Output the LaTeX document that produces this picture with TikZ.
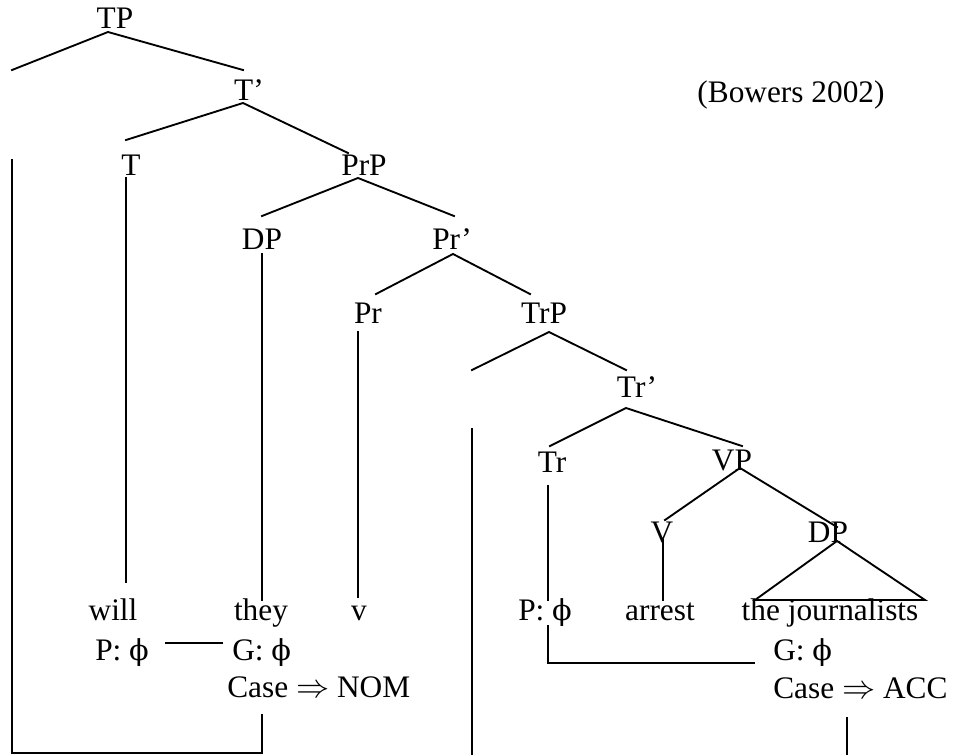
\documentclass[tikz,border=0pt]{standalone}
\usepackage{fontspec}
\setmainfont{Liberation Serif}
\newfontfamily\phfont[Scale=0.92]{DejaVu Serif}
\usetikzlibrary{positioning}
\newcommand{\ph}{{\phfont ϕ}}
\tikzset{
  branch/.style={line width=1.4pt, line cap=rect, line join=miter},
  lab/.style={anchor=base, inner sep=0pt, font=\fontsize{23.5}{28}\selectfont},
  labw/.style={lab, anchor=base west},
}

\begin{document}
\begin{tikzpicture}[x=0.75pt, y=-0.75pt]
  \useasboundingbox (0,0) rectangle (963,755);

  % Labels of the tree
  \node[lab] (TP) at (115,29) {TP};
  \node[lab] (Tbar) at (249,101) {T’};
  \node[lab] (src) at (791,103) {(Bowers 2002)};
  \node[lab] (T) at (131,176) {T};
  \node[lab] (PrP) at (364,176) {PrP};
  \node[lab] (DPa) at (262,250) {DP};
  \node[lab] (Prbar) at (452,250) {Pr’};
  \node[lab] (Pr) at (368,324) {Pr};
  \node[lab] (TrP) at (544,324) {TrP};
  \node[lab] (Trbar) at (637,397) {Tr’};
  \node[lab] (Tr) at (552,472) {Tr};
  \node[lab] (VP) at (732,470) {VP};
  \node[lab] (V) at (662,542) {V};
  \node[lab] (DPb) at (828,542) {DP};

  % Words and features
  \node[lab] (will) at (113,620) {will};
  \node[lab] (they) at (261,620) {they};
  \node[lab] (v) at (359,620) {v};
  \node[labw] (PTr) at (518,620) {P: \ph};
  \node[lab] (arrest) at (660,620) {arrest};
  \node[lab] (journ) at (830,620) {the journalists};
  \node[labw] (PT) at (95,660) {P: \ph};
  \node[labw] (Gthey) at (232,660) {G: \ph};
  \node[labw] (nom) at (227,697) {Case $\Rightarrow$ NOM};
  \node[labw] (Gjourn) at (773,660) {G: \ph};
  \node[labw] (acc) at (773,698) {Case $\Rightarrow$ ACC};

  % Branch points
  \coordinate (TP-a) at (108,32);   \coordinate (TP-l) at (12,70);    \coordinate (TP-r) at (243,70);
  \coordinate (Tbar-a) at (243,103);\coordinate (Tbar-l) at (126,140);\coordinate (Tbar-r) at (348,153);
  \coordinate (PrP-a) at (358,178); \coordinate (PrP-l) at (262,216); \coordinate (PrP-r) at (454,216);
  \coordinate (Prbar-a) at (453,254);\coordinate (Prbar-l) at (376,294);\coordinate (Prbar-r) at (530,294);
  \coordinate (TrP-a) at (549,332); \coordinate (TrP-l) at (472,370); \coordinate (TrP-r) at (626,370);
  \coordinate (Trbar-a) at (626,408);\coordinate (Trbar-l) at (550,446);\coordinate (Trbar-r) at (742,446);
  \coordinate (VP-a) at (740,468);  \coordinate (VP-l) at (665,520);  \coordinate (VP-r) at (837,527);
  \coordinate (DPb-a) at (837,541); \coordinate (DPb-l) at (755,600); \coordinate (DPb-r) at (925,600);

  \draw[branch] (TP-l) -- (TP-a) -- (TP-r);
  \draw[branch] (Tbar-l) -- (Tbar-a) -- (Tbar-r);
  \draw[branch] (PrP-l) -- (PrP-a) -- (PrP-r);
  \draw[branch] (Prbar-l) -- (Prbar-a) -- (Prbar-r);
  \draw[branch] (TrP-l) -- (TrP-a) -- (TrP-r);
  \draw[branch] (Trbar-l) -- (Trbar-a) -- (Trbar-r);
  \draw[branch] (VP-l) -- (VP-a) -- (VP-r);
  \draw[branch] (DPb-l) -- (DPb-a) -- (DPb-r) -- cycle;

  % Heads down to their words
  \coordinate (T-top) at (126,178);   \coordinate (T-bot) at (126,582);
  \coordinate (DPa-top) at (262,254); \coordinate (DPa-bot) at (262,600);
  \coordinate (Pr-top) at (358,332);  \coordinate (Pr-bot) at (358,597);
  \coordinate (V-top) at (663,540);   \coordinate (V-bot) at (663,600);
  \coordinate (Tr-top) at (548,486);  \coordinate (Tr-bot) at (548,600);
  \draw[branch] (T-top) -- (T-bot);
  \draw[branch] (DPa-top) -- (DPa-bot);
  \draw[branch] (Pr-top) -- (Pr-bot);
  \draw[branch] (V-top) -- (V-bot);
  \draw[branch] (Tr-top) -- (Tr-bot);

  % Agree links
  \coordinate (PT-r) at (166,643);   \coordinate (Gthey-l) at (222,643);
  \draw[branch] (PT-r) -- (Gthey-l);
  \coordinate (PTr-bot) at (548,626); \coordinate (Gjourn-l) at (754,663);
  \draw[branch] (PTr-bot) |- (Gjourn-l);

  % Movement paths
  \coordinate (spec-top) at (12,160); \coordinate (nom-bot) at (262,715);
  \draw[branch] (spec-top) -- (12,753) -| (nom-bot);
  \coordinate (mid-top) at (472,429); \coordinate (mid-bot) at (472,755);
  \draw[branch] (mid-top) -- (mid-bot);
  \coordinate (acc-bot) at (847,718); \coordinate (acc-end) at (847,755);
  \draw[branch] (acc-bot) -- (acc-end);
\end{tikzpicture}
\end{document}
